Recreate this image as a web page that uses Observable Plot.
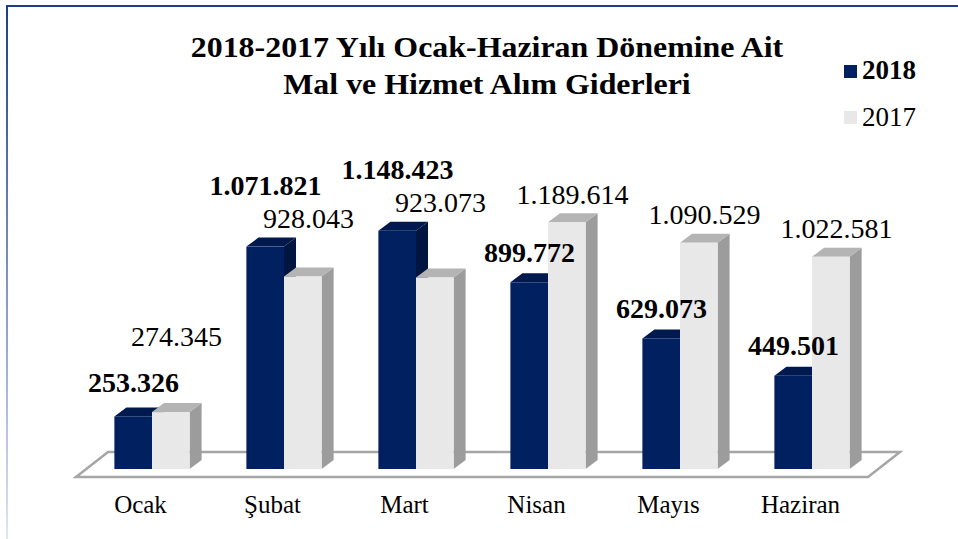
<!DOCTYPE html>
<html><head><meta charset="utf-8">
<script src="https://cdn.jsdelivr.net/npm/d3@7"></script>
<script src="https://cdn.jsdelivr.net/npm/@observablehq/plot@0.6"></script>
<style>
body{margin:0;background:#fff;font-family:"Liberation Serif","Times New Roman",serif;color:#000;}
#wrap{position:relative;width:958px;height:539px;overflow:hidden;background:#fff;}
.bt{position:absolute;left:6px;top:5px;width:952px;height:2px;background:#1f3d8a;}
.bl{position:absolute;left:6px;top:5px;width:2px;height:534px;background:linear-gradient(#1f3d8a 0%,#8fa3cf 60%,#dfe5f2 100%);}
.title{position:absolute;left:0;width:974px;top:29px;text-align:center;font-weight:bold;font-size:29px;line-height:37px;transform:scaleX(1.1);transform-origin:487px 0;}
.sw{position:absolute;left:844px;width:13px;height:13px;}
.lt{position:absolute;left:862px;font-size:27px;line-height:27px;}
#chart{position:absolute;left:0;top:120px;}
</style></head>
<body>
<div id="wrap">
  <div class="bt"></div><div class="bl"></div>
  <div class="title">2018-2017 Yılı Ocak-Haziran Dönemine Ait<br>Mal ve Hizmet Alım Giderleri</div>
  <div class="sw" style="top:65px;background:#002060"></div><div class="lt" style="top:57px;font-weight:bold">2018</div>
  <div class="sw" style="top:111px;background:#e8e8e8"></div><div class="lt" style="top:104px">2017</div>
  <div id="chart"></div>
</div>
<script>
const months = ["Ocak", "Şubat", "Mart", "Nisan", "Mayıs", "Haziran"];
const years = ["2018", "2017"];
const values2018 = [253326, 1071821, 1148423, 899772, 629073, 449501];
const values2017 = [274345, 928043, 923073, 1189614, 1090529, 1022581];

const fmt = d3.formatLocale({decimal: ",", thousands: ".", grouping: [3], currency: ["", ""]}).format(",d");

// when two bars of a month are close, both labels sit above the taller bar,
// the taller bar's label on top
const closeGap = 240000;
const table = months.flatMap((m, i) => {
  const a = values2018[i], b = values2017[i];
  const close = Math.abs(a - b) < closeGap;
  const top = Math.max(a, b);
  return [
    {month: m, year: "2018", value: a, anchor: close ? top : a, lift: close && a >= b},
    {month: m, year: "2017", value: b, anchor: close ? top : b, lift: close && b > a}
  ];
});

const colors = {
  "2018": {front: "#002060", top: "#001a4f", side: "#001540"},
  "2017": {front: "#e8e8e8", top: "#b4b4b4", side: "#9c9c9c"}
};

function render3d(index, scales, values, dimensions) {
  const {x, y} = scales;
  const {width, marginLeft, marginRight} = dimensions;
  const bw = (width - marginLeft - marginRight) / months.length;
  const barW = bw * 0.285;
  const ddx = 12, ddy = 9;
  const y0 = y(0);
  const g = d3.create("svg:g");
  const fl = marginLeft - 10, fr = width - marginRight - 10;
  g.append("path")
    .attr("d", `M${fl},${y0 + 8}L${fr},${y0 + 8}L${fr + 32},${y0 - 17}L${fl + 32},${y0 - 17}Z`)
    .attr("fill", "#fff").attr("stroke", "#a6a6a6").attr("stroke-width", 2.5);
  for (const i of index) {
    const d = table[i];
    const c = colors[d.year];
    const cx = x(d.month) + bw / 2;
    const x0 = d.year === "2018" ? cx - barW : cx;
    const x1 = x0 + barW;
    const yt = y(d.value);
    g.append("path").attr("fill", c.side)
      .attr("d", `M${x1},${yt}L${x1 + ddx},${yt - ddy}L${x1 + ddx},${y0 - ddy}L${x1},${y0}Z`);
    g.append("path").attr("fill", c.top)
      .attr("d", `M${x0},${yt}L${x0 + ddx},${yt - ddy}L${x1 + ddx},${yt - ddy}L${x1},${yt}Z`);
    g.append("rect").attr("fill", c.front)
      .attr("x", x0).attr("y", yt).attr("width", barW).attr("height", y0 - yt);
  }
  return g.node();
}

const font = {fontFamily: '"Liberation Serif","Times New Roman",serif', fontSize: 28};

const chart = Plot.plot({
  width: 958,
  height: 419,
  marginLeft: 86,
  marginRight: 80,
  marginTop: 100,
  marginBottom: 70,
  style: {fontFamily: '"Liberation Serif","Times New Roman",serif', color: "#000", background: "transparent", overflow: "visible"},
  x: {domain: months, padding: 0, axis: null},
  y: {domain: [0, 1200000], axis: null},
  marks: [
    Plot.barY(table, {x: "month", y1: d => 0, y2: "value", fill: d => colors[d.year].front, render: render3d}),
    Plot.text(table, {filter: d => d.year === "2018" && !d.lift, x: "month", y: "anchor", text: d => fmt(d.value), dx: -19, dy: -30, fontWeight: "bold", ...font}),
    Plot.text(table, {filter: d => d.year === "2018" && d.lift, x: "month", y: "anchor", text: d => fmt(d.value), dx: -19, dy: -61, fontWeight: "bold", ...font}),
    Plot.text(table, {filter: d => d.year === "2017" && !d.lift, x: "month", y: "anchor", text: d => fmt(d.value), dx: 24, dy: -28, ...font}),
    Plot.text(table, {filter: d => d.year === "2017" && d.lift, x: "month", y: "anchor", text: d => fmt(d.value), dx: 24, dy: -76, ...font}),
    Plot.axisX({tickSize: 0, tickPadding: 26, dx: -12, fontSize: 25, fill: "#000", label: null})
  ]
});
document.getElementById("chart").appendChild(chart);
</script>
</body></html>
